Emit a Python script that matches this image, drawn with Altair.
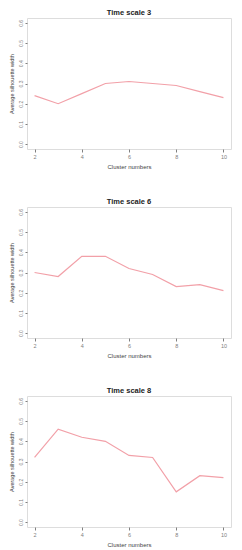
import altair as alt
import pandas as pd

clusters = [2, 3, 4, 5, 6, 7, 8, 9, 10]
scale3 = [0.24, 0.20, 0.25, 0.30, 0.31, 0.30, 0.29, 0.26, 0.23]
scale6 = [0.30, 0.28, 0.38, 0.38, 0.32, 0.29, 0.23, 0.24, 0.21]
scale8 = [0.32, 0.46, 0.42, 0.40, 0.33, 0.32, 0.15, 0.23, 0.22]
titles = ["Time scale 3", "Time scale 6", "Time scale 8"]
x_ticks = [2, 4, 6, 8, 10]
y_ticks = [0.0, 0.1, 0.2, 0.3, 0.4, 0.5, 0.6]

LINE = "#f2a0a8"
GREY = "#808080"


def panel(values, title):
    df = pd.DataFrame({"k": clusters, "s": values})
    return alt.Chart(df, title=alt.TitleParams(
        title, fontSize=7.5, fontWeight="bold", font="Liberation Sans",
        color="#222222", offset=2)).mark_line(color=LINE, strokeWidth=1.2).encode(
        x=alt.X("k:Q", scale=alt.Scale(domain=[1.68, 10.32], nice=False, zero=False),
                axis=alt.Axis(values=x_ticks, title="Cluster numbers", domain=False,
                              grid=False, tickSize=3, tickColor=GREY, labelColor=GREY,
                              labelFontSize=5.5, titleFontSize=6, titleFontWeight="normal",
                              titleColor="#444444", labelPadding=2, titlePadding=4,
                              labelFont="Liberation Sans", titleFont="Liberation Sans")),
        y=alt.Y("s:Q", scale=alt.Scale(domain=[-0.024, 0.624], nice=False, zero=False),
                axis=alt.Axis(values=y_ticks, format=".1f", title="Average silhouette width",
                              domain=False, grid=False, tickSize=2, tickColor=GREY,
                              labelColor=GREY, labelFontSize=5, labelAngle=270,
                              labelAlign="center", labelBaseline="bottom",
                              titleFontSize=5.5, titleFontWeight="normal",
                              titleColor="#444444", labelPadding=2, titlePadding=4,
                              labelFont="Liberation Sans", titleFont="Liberation Sans")),
    ).properties(width=204, height=131)


chart = alt.vconcat(
    panel(scale3, titles[0]),
    panel(scale6, titles[1]),
    panel(scale8, titles[2]),
    spacing=27,
).properties(padding={"left": 0, "top": 0, "right": 0, "bottom": 0}).configure_view(
    stroke=GREY, strokeWidth=1
).configure(background="white")

chart.save("out.html", embed_options={"renderer": "svg", "actions": False})
